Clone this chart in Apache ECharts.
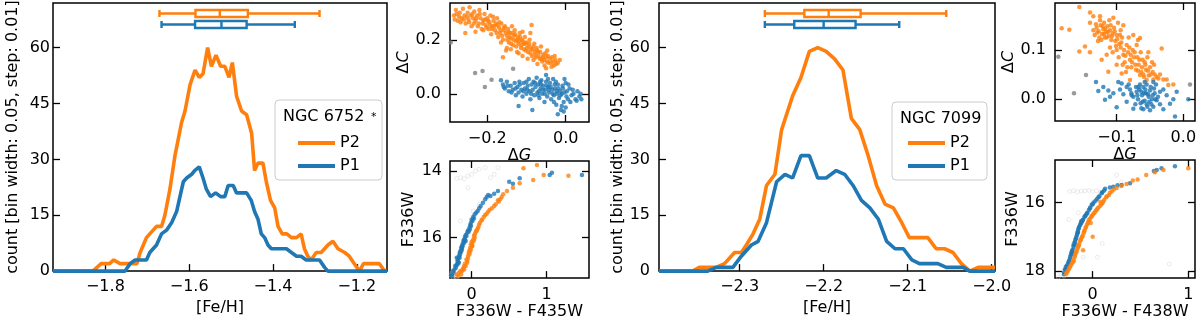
<!DOCTYPE html>
<html>
<head>
<meta charset="utf-8">
<script src="https://cdn.jsdelivr.net/npm/echarts@6.0.0/dist/echarts.min.js"></script>
<style>
  html, body { margin: 0; padding: 0; background: #fff; }
  #chart { width: 1200px; height: 321px; }
</style>
</head>
<body>
<div id="chart"></div>
<script>
// ---- NGC 6752 metallicity distribution (running histogram) ----
const fe6752P2 = [-1.925,-1.83,-1.81,-1.79,-1.78,-1.765,-1.725,-1.717,-1.702,-1.686,-1.678,-1.666,-1.658,-1.646,-1.634,-1.618,-1.610,-1.598,-1.586,-1.576,-1.567,-1.556,-1.547,-1.536,-1.525,-1.515,-1.505,-1.497,-1.487,-1.475,-1.463,-1.451,-1.444,-1.436,-1.424,-1.416,-1.406,-1.396,-1.388,-1.378,-1.367,-1.356,-1.344,-1.333,-1.325,-1.317,-1.309,-1.297,-1.285,-1.269,-1.257,-1.245,-1.229,-1.218,-1.206,-1.194,-1.184,-1.174,-1.146,-1.134,-1.128];
const n6752P2 = [0,0,2,2,3,2,2,5,9,11,12,12,15,22,31,40,43,50,54,52,53,60,55,58,55,55,52,56,47,43,42,37,27,29,29,24,19,17,12,10,10,9,9,10,6,4,3,5,5,7,8,6,5,4,2,0,2,2,2,0,0];
const fe6752P1 = [-1.925,-1.753,-1.741,-1.729,-1.702,-1.694,-1.678,-1.666,-1.654,-1.642,-1.630,-1.622,-1.614,-1.606,-1.594,-1.587,-1.576,-1.567,-1.559,-1.549,-1.537,-1.525,-1.515,-1.507,-1.495,-1.487,-1.471,-1.463,-1.452,-1.444,-1.436,-1.428,-1.420,-1.412,-1.404,-1.368,-1.356,-1.344,-1.333,-1.321,-1.289,-1.277,-1.269,-1.128];
const n6752P1 = [0,0,2,3,3,5,7,10,11,13,16,20,24,25,26,27,28,25,22,20,21,20,20,23,23,21,21,21,19,16,14,10,9,7,6,6,5,4,4,3,3,1,0,0];
// box stats [min, q1, median, q3, max]
const box6752P1 = [-1.666,-1.586,-1.523,-1.463,-1.348];
const box6752P2 = [-1.671,-1.585,-1.527,-1.460,-1.289];

// ---- NGC 7099 ----
const fe7099P2 = [-2.396,-2.356,-2.348,-2.328,-2.318,-2.306,-2.298,-2.292,-2.284,-2.276,-2.268,-2.258,-2.250,-2.237,-2.227,-2.217,-2.207,-2.197,-2.187,-2.177,-2.167,-2.157,-2.147,-2.137,-2.127,-2.117,-2.107,-2.098,-2.088,-2.076,-2.066,-2.056,-2.046,-2.036,-2.026,-2.016,-1.996];
const n7099P2 = [0,0,1,1,2,5,5,7,10,14,23,26,38,47,52,59,60,59,57,54,41,38,31,23,18,17,13,9,9,9,6,6,5,2,0,1,1];
const fe7099P1 = [-2.396,-2.338,-2.328,-2.308,-2.298,-2.286,-2.278,-2.268,-2.256,-2.246,-2.237,-2.227,-2.217,-2.207,-2.197,-2.185,-2.175,-2.165,-2.155,-2.145,-2.135,-2.125,-2.115,-2.105,-2.095,-2.086,-2.064,-2.054,-2.034,-2.026,-1.996];
const n7099P1 = [0,0,1,1,4,7,8,13,24,26,25,31,31,25,25,27,26,23,19,17,14,8,6,6,3,2,2,1,1,0,0];
const box7099P1 = [-2.270,-2.235,-2.200,-2.162,-2.110];
const box7099P2 = [-2.270,-2.223,-2.194,-2.156,-2.054];

// ---- chromosome maps (dG, dC) ----
const map6752P2 = [[-0.285,0.29],[-0.28,0.31],[-0.275,0.27],[-0.27,0.30],[-0.265,0.28],[-0.262,0.315],[-0.258,0.29],[-0.255,0.26],[-0.25,0.30],[-0.248,0.275],[-0.245,0.32],[-0.242,0.29],[-0.24,0.25],[-0.236,0.28],[-0.233,0.305],[-0.23,0.27],[-0.226,0.29],[-0.222,0.26],[-0.22,0.31],[-0.217,0.28],[-0.214,0.24],[-0.21,0.27],[-0.207,0.295],[-0.204,0.255],[-0.2,0.28],[-0.197,0.24],[-0.195,0.265],[-0.192,0.29],[-0.19,0.22],[-0.187,0.25],[-0.184,0.27],[-0.18,0.235],[-0.178,0.26],[-0.175,0.28],[-0.172,0.21],[-0.17,0.245],[-0.167,0.225],[-0.164,0.26],[-0.16,0.2],[-0.158,0.235],[-0.155,0.25],[-0.152,0.16],[-0.15,0.215],[-0.147,0.24],[-0.145,0.19],[-0.142,0.225],[-0.14,0.205],[-0.137,0.25],[-0.134,0.18],[-0.132,0.215],[-0.13,0.235],[-0.127,0.195],[-0.124,0.155],[-0.122,0.21],[-0.12,0.185],[-0.117,0.225],[-0.114,0.17],[-0.112,0.2],[-0.11,0.14],[-0.107,0.185],[-0.104,0.21],[-0.102,0.16],[-0.1,0.19],[-0.097,0.13],[-0.094,0.175],[-0.092,0.2],[-0.09,0.15],[-0.087,0.255],[-0.084,0.165],[-0.082,0.125],[-0.08,0.185],[-0.077,0.145],[-0.074,0.17],[-0.072,0.11],[-0.07,0.155],[-0.066,0.13],[-0.063,0.175],[-0.06,0.12],[-0.057,0.145],[-0.054,0.105],[-0.05,0.135],[-0.047,0.16],[-0.044,0.115],[-0.04,0.13],[-0.036,0.1],[-0.032,0.12],[-0.028,0.14],[-0.024,0.11],[-0.015,0.125],[-0.05,0.095],[-0.16,0.135],[-0.256,0.225],[-0.23,0.23],
    [-0.283,0.275],[-0.278,0.295],[-0.272,0.285],[-0.268,0.265],[-0.26,0.275],[-0.252,0.285],[-0.246,0.265],[-0.238,0.295],[-0.234,0.26],[-0.228,0.28],[-0.224,0.25],[-0.219,0.295],[-0.212,0.26],[-0.206,0.275],[-0.202,0.245],[-0.198,0.27],[-0.193,0.255],[-0.188,0.24],[-0.185,0.285],[-0.182,0.25],[-0.176,0.225],[-0.174,0.255],[-0.169,0.265],[-0.166,0.235],[-0.162,0.215],[-0.157,0.245],[-0.153,0.225],[-0.149,0.2],[-0.146,0.23],[-0.143,0.21],[-0.139,0.185],[-0.136,0.225],[-0.133,0.2],[-0.129,0.22],[-0.126,0.175],[-0.123,0.2],[-0.119,0.195],[-0.116,0.21],[-0.113,0.18],[-0.109,0.195],[-0.106,0.165],[-0.103,0.185],[-0.099,0.17],[-0.096,0.155],[-0.093,0.185],[-0.089,0.165],[-0.086,0.14],[-0.083,0.175],[-0.079,0.155],[-0.076,0.135],[-0.073,0.16],[-0.069,0.14],[-0.065,0.155],[-0.062,0.13],[-0.058,0.135],[-0.055,0.125],[-0.052,0.15],[-0.048,0.12],[-0.045,0.14],[-0.038,0.115],[-0.035,0.135],[-0.03,0.105],[-0.026,0.125],[-0.02,0.115],[-0.15,0.17],[-0.14,0.165],[-0.165,0.19],[-0.12,0.15],[-0.21,0.235],[-0.09,0.225],[-0.11,0.23]];
const map6752P1 = [[-0.165,0.05],[-0.16,0.035],[-0.155,0.02],[-0.15,0.045],[-0.145,0.01],[-0.14,0.03],[-0.135,0.015],[-0.13,0.04],[-0.127,-0.005],[-0.123,0.025],[-0.12,0.005],[-0.117,0.035],[-0.113,0.015],[-0.11,-0.01],[-0.107,0.04],[-0.104,0.02],[-0.1,0.0],[-0.097,0.03],[-0.094,0.055],[-0.092,0.01],[-0.09,-0.02],[-0.087,0.035],[-0.084,0.015],[-0.082,0.045],[-0.08,-0.005],[-0.077,0.025],[-0.074,0.06],[-0.072,0.005],[-0.07,0.035],[-0.067,-0.015],[-0.064,0.02],[-0.062,0.05],[-0.06,0.0],[-0.057,0.03],[-0.054,-0.03],[-0.052,0.015],[-0.05,0.045],[-0.047,-0.01],[-0.044,0.025],[-0.042,0.005],[-0.04,0.04],[-0.037,-0.02],[-0.034,0.015],[-0.032,0.055],[-0.03,-0.005],[-0.027,0.02],[-0.024,-0.04],[-0.022,0.0],[-0.02,0.035],[-0.017,-0.015],[-0.014,0.01],[-0.012,-0.06],[-0.01,0.0],[-0.007,0.02],[-0.005,-0.03],[-0.003,0.055],[0.0,-0.05],[0.003,0.01],[0.006,-0.02],[0.01,0.02],[0.015,-0.005],[0.02,0.0],[0.025,-0.02],[0.03,0.01],[0.035,-0.01],[0.04,-0.02],[-0.02,-0.075],[-0.05,0.07],[-0.12,-0.045],[-0.085,-0.06],
    [-0.158,0.025],[-0.148,0.03],[-0.138,0.005],[-0.128,0.02],[-0.118,0.045],[-0.108,0.01],[-0.098,0.015],[-0.088,0.0],[-0.078,0.04],[-0.068,0.01],[-0.063,0.035],[-0.058,0.015],[-0.053,0.0],[-0.048,0.03],[-0.043,0.015],[-0.038,0.025],[-0.033,0.0],[-0.028,0.035],[-0.023,0.01],[-0.018,0.02],[-0.013,-0.005],[-0.008,0.03],[-0.003,0.005],[0.002,-0.01],[0.007,0.035],[0.012,-0.03],[0.018,0.015],[0.028,-0.025],[0.038,0.0],[-0.01,-0.045],[-0.03,-0.03],[-0.07,-0.005],[-0.1,0.045],[-0.065,0.045],[-0.045,0.055],[-0.025,0.045],[-0.005,-0.065],[0.0,0.04]];
const map6752Other = [[-0.231,0.077],[-0.212,0.085],[-0.189,0.052],[-0.206,0.025],[-0.134,0.093],[-0.293,0.19]];

const map7099P2 = [[-0.156,0.187],[-0.1825,0.144],[-0.171,0.141],[-0.14,0.176],[-0.135,0.168],[-0.125,0.168],[-0.1475,0.107],[-0.156,0.097],[-0.14,0.095],[-0.1225,0.08],[-0.1125,0.056],[-0.0925,0.052],[-0.08,0.039],[-0.065,0.049],[-0.055,0.039],[-0.0375,0.042],[-0.0325,0.103],[-0.0225,0.029],[-0.015,0.03],[-0.0525,0.095],[-0.065,0.124],[-0.13,0.145],[-0.127,0.138],[-0.124,0.15],[-0.122,0.132],[-0.12,0.142],[-0.118,0.125],[-0.116,0.136],[-0.114,0.148],[-0.112,0.128],[-0.11,0.14],[-0.108,0.12],[-0.106,0.133],[-0.104,0.145],[-0.102,0.118],[-0.1,0.13],[-0.098,0.155],[-0.096,0.112],[-0.094,0.14],[-0.126,0.125],[-0.119,0.155],[-0.111,0.16],[-0.133,0.13],[-0.128,0.118],[-0.105,0.165],[-0.09,0.15],[-0.092,0.125],[-0.11,0.105],[-0.106,0.095],[-0.1,0.1],[-0.097,0.085],[-0.094,0.105],[-0.09,0.09],[-0.088,0.075],[-0.085,0.11],[-0.083,0.095],[-0.08,0.08],[-0.078,0.065],[-0.076,0.1],[-0.074,0.085],[-0.072,0.07],[-0.07,0.11],[-0.068,0.058],[-0.066,0.08],[-0.064,0.095],[-0.062,0.065],[-0.06,0.05],[-0.058,0.075],[-0.056,0.06],[-0.054,0.085],[-0.052,0.048],[-0.05,0.065],[-0.046,0.055],[-0.044,0.07],[-0.04,0.045],[-0.082,0.125],[-0.075,0.13],[-0.068,0.12],[-0.115,0.09],[-0.1,0.07],[-0.086,0.055],[-0.03,0.04],[-0.045,0.04],
    [-0.131,0.152],[-0.125,0.16],[-0.121,0.148],[-0.117,0.143],[-0.113,0.137],[-0.109,0.15],[-0.107,0.128],[-0.103,0.138],[-0.099,0.122],[-0.095,0.13],[-0.123,0.12],[-0.119,0.132],[-0.115,0.125],[-0.129,0.135],[-0.135,0.14],[-0.14,0.155],[-0.101,0.108],[-0.093,0.115],[-0.089,0.1],[-0.087,0.088],[-0.081,0.105],[-0.079,0.09],[-0.077,0.075],[-0.073,0.095],[-0.071,0.06],[-0.069,0.085],[-0.067,0.07],[-0.063,0.055],[-0.061,0.08],[-0.059,0.045],[-0.057,0.07],[-0.053,0.058],[-0.049,0.05],[-0.047,0.075],[-0.043,0.05],[-0.091,0.07],[-0.084,0.065],[-0.035,0.05],[-0.025,0.04]];
const map7099P1 = [[-0.131,0.035],[-0.1275,0.017],[-0.1175,-0.001],[-0.1125,0.018],[-0.105,0.012],[-0.0975,0.035],[-0.1,-0.016],[-0.0925,0.032],[-0.085,0.025],[-0.0775,0.008],[-0.075,-0.019],[-0.04,-0.002],[-0.035,0.015],[-0.02,-0.009],[-0.01,0.015],[-0.0125,-0.035],[0.0075,0.0],[-0.07,0.015],[-0.068,0.0],[-0.066,0.02],[-0.064,-0.008],[-0.062,0.008],[-0.06,0.025],[-0.058,-0.003],[-0.056,0.012],[-0.054,-0.015],[-0.052,0.005],[-0.05,0.018],[-0.048,-0.01],[-0.046,0.008],[-0.044,0.022],[-0.06,-0.02],[-0.055,0.03],[-0.075,0.005],[-0.08,0.02],[-0.072,-0.01],[-0.065,0.03],[-0.05,-0.022],[-0.042,0.0],[-0.085,-0.005],[-0.09,0.01],[-0.058,0.035],[-0.035,-0.01],[-0.03,0.02],
    [-0.069,0.008],[-0.067,0.025],[-0.063,0.015],[-0.061,-0.005],[-0.059,0.012],[-0.057,0.02],[-0.053,0.01],[-0.051,-0.005],[-0.049,0.025],[-0.047,0.0],[-0.045,-0.015],[-0.043,0.012],[-0.041,0.03],[-0.038,0.005],[-0.063,-0.018],[-0.055,-0.01],[-0.071,0.025],[-0.078,0.012],[-0.082,0.03],[-0.095,0.02],[-0.11,0.005],[-0.12,0.025],[-0.025,0.008],[-0.015,0.0],[-0.03,-0.02],[-0.045,0.035]];
const map7099Other = [[-0.1875,0.086],[-0.146,0.049],[-0.164,0.012],[0.01,0.03]];

// ---- CMDs (colour, F336W) ----
const cmd6752P1 = [[-0.27,17.1],[-0.25,17.0],[-0.23,16.95],[-0.22,16.85],[-0.2,16.8],[-0.19,16.7],[-0.18,16.62],[-0.17,16.55],[-0.16,16.45],[-0.15,16.4],[-0.14,16.3],[-0.13,16.25],[-0.12,16.18],[-0.11,16.1],[-0.1,16.05],[-0.09,15.98],[-0.08,15.92],[-0.06,15.85],[-0.05,15.78],[-0.03,15.7],[-0.02,15.62],[-0.01,15.55],[0.0,15.45],[0.02,15.38],[0.04,15.3],[0.08,15.2],[0.12,15.05],[0.15,14.95],[0.2,14.78],[0.22,14.72],[0.3,14.68],[0.35,14.6],[0.5,14.32],[0.55,14.38],[0.64,14.22],[1.04,14.12],[1.07,14.05],[1.47,14.12],[-0.17,16.75],[-0.13,16.35],[-0.08,16.1],[-0.2,16.6],
    [-0.26,17.15],[-0.24,17.05],[-0.21,16.9],[-0.19,16.8],[-0.18,16.72],[-0.16,16.6],[-0.155,16.5],[-0.14,16.42],[-0.13,16.3],[-0.12,16.25],[-0.1,16.15],[-0.09,16.05],[-0.07,15.95],[-0.04,15.82],[-0.025,15.75],[-0.01,15.65],[0.01,15.5],[0.03,15.42],[0.06,15.25],[0.1,15.12],[0.18,14.85],[0.25,14.75]];
const cmd6752P2 = [[-0.2,17.1],[-0.17,17.05],[-0.15,17.0],[-0.12,16.95],[-0.1,16.85],[-0.09,16.78],[-0.07,16.65],[-0.05,16.55],[-0.04,16.45],[-0.03,16.38],[-0.02,16.3],[-0.01,16.2],[0.0,16.12],[0.02,16.05],[0.03,15.95],[0.05,15.85],[0.07,15.78],[0.09,15.68],[0.1,15.6],[0.13,15.48],[0.16,15.38],[0.2,15.28],[0.24,15.16],[0.3,15.05],[0.35,14.88],[0.38,14.85],[0.42,14.7],[0.47,14.6],[0.55,14.5],[0.64,14.37],[0.69,13.92],[0.82,14.27],[0.87,13.82],[0.96,14.12],[1.29,14.14],[-0.06,16.7],[0.04,16.0],[-0.11,16.9],[0.01,16.25],
    [-0.18,17.15],[-0.14,17.1],[-0.13,17.0],[-0.1,16.95],[-0.08,16.85],[-0.06,16.75],[-0.05,16.62],[-0.03,16.5],[-0.02,16.42],[-0.01,16.35],[0.0,16.25],[0.01,16.15],[0.03,16.08],[0.04,15.9],[0.06,15.8],[0.08,15.72],[0.11,15.55],[0.14,15.45],[0.18,15.32],[0.22,15.22],[0.27,15.12],[0.32,15.0],[0.36,14.92],[0.4,14.78]];
const cmd6752All = [[-0.2,14.22],[-0.15,14.2],[-0.1,14.23],[-0.05,14.15],[0.0,14.1],[0.05,14.0],[0.1,13.95],[0.18,13.9],[0.25,14.2],[0.3,14.1],[0.35,13.9],[-0.05,14.5],[0.1,15.0],[-0.22,17.15],[-0.25,17.18],[-0.28,17.12],[-0.2,17.18],[-0.26,17.05],[-0.15,15.5],[0.02,15.2]];

const cmd7099P1 = [[-0.3,18.05],[-0.29,17.95],[-0.28,17.88],[-0.26,17.8],[-0.25,17.72],[-0.24,17.66],[-0.23,17.55],[-0.22,17.45],[-0.21,17.38],[-0.2,17.3],[-0.19,17.22],[-0.185,17.15],[-0.175,17.05],[-0.165,16.95],[-0.155,16.85],[-0.15,16.78],[-0.14,16.7],[-0.125,16.62],[-0.115,16.58],[-0.1,16.5],[-0.085,16.42],[-0.07,16.36],[-0.055,16.3],[-0.04,16.22],[-0.025,16.15],[-0.01,16.07],[0.01,16.0],[0.03,15.95],[0.045,15.9],[0.07,15.82],[0.094,15.73],[0.12,15.65],[0.13,15.6],[0.18,15.56],[0.216,15.54],[0.26,15.5],[0.303,15.49],[0.39,15.44],[0.64,15.08],[0.67,15.05],[0.72,15.0],[0.86,14.94],[-0.27,17.98],[-0.21,17.5],[-0.16,16.9],[-0.12,16.55],
    [-0.3,18.1],[-0.28,17.95],[-0.27,17.85],[-0.25,17.75],[-0.235,17.6],[-0.225,17.5],[-0.215,17.42],[-0.2,17.25],[-0.19,17.18],[-0.18,17.08],[-0.17,17.0],[-0.155,16.88],[-0.145,16.75],[-0.13,16.65],[-0.105,16.52],[-0.08,16.4],[-0.06,16.32],[-0.03,16.18],[0.0,16.05],[0.06,15.85],[0.1,15.7]];
const cmd7099P2 = [[-0.28,18.1],[-0.27,18.05],[-0.25,17.95],[-0.23,17.85],[-0.21,17.75],[-0.2,17.68],[-0.19,17.6],[-0.18,17.5],[-0.17,17.42],[-0.16,17.35],[-0.15,17.28],[-0.14,17.2],[-0.13,17.12],[-0.12,17.05],[-0.105,16.98],[-0.095,16.9],[-0.085,16.82],[-0.07,16.72],[-0.06,16.65],[-0.045,16.55],[-0.03,16.48],[-0.015,16.42],[0.0,16.36],[0.02,16.3],[0.04,16.22],[0.06,16.15],[0.08,16.1],[0.1,16.02],[0.12,15.93],[0.14,15.85],[0.17,15.78],[0.2,15.68],[0.25,15.58],[0.3,15.52],[0.355,15.46],[0.42,15.36],[0.47,15.33],[0.56,15.2],[0.65,15.12],[0.74,15.05],[1.0,15.0],[-0.1,17.4],[0.0,17.0],[-0.02,16.6],[0.08,15.98],
    [-0.26,18.0],[-0.24,17.9],[-0.22,17.8],[-0.2,17.72],[-0.185,17.55],[-0.17,17.45],[-0.155,17.3],[-0.145,17.25],[-0.125,17.1],[-0.11,17.0],[-0.09,16.85],[-0.075,16.75],[-0.05,16.6],[-0.035,16.5],[-0.01,16.4],[0.01,16.32],[0.03,16.25],[0.05,16.18],[0.09,16.05],[0.11,15.98],[0.15,15.82],[0.18,15.72],[0.22,15.62]];
const cmd7099All = [[-0.24,15.68],[-0.2,15.66],[-0.16,15.69],[-0.12,15.67],[-0.08,15.66],[-0.04,15.65],[0.0,15.68],[0.04,15.66],[0.08,15.7],[-0.3,18.15],[-0.33,18.1],[-0.36,18.18],[-0.3,18.0],[-0.2,17.2],[-0.1,17.6],[0.05,17.6],[-0.25,16.5],[0.25,15.2],[0.3,15.4],[0.8,17.8],[0.1,17.2],[-0.15,16.3]];

// tick positions
const feTicks6752 = [-1.8, -1.6, -1.4, -1.2];
const feTicks7099 = [-2.3, -2.2, -2.1, -2.0];
const countTicks = [0, 15, 30, 45, 60];
const dgTicks6752 = [-0.2, 0.0], dcTicks6752 = [0.0, 0.2];
const dgTicks7099 = [-0.1, 0.0], dcTicks7099 = [0.0, 0.1];
const colTicks = [0, 1];
const magTicks6752 = [14, 16], magTicks7099 = [16, 18];

const ORANGE = '#ff7f0e', BLUE = '#1f77b4', FONT = 'DejaVu Sans';
const COUNT_NAME = 'count [bin width: 0.05, step: 0.01]';

const grids = [], xAxes = [], yAxes = [], series = [];

function fmt(d) {
    return v => (d == null ? String(v) : Number(v).toFixed(d)).replace('-', '\u2212');
}

function axis(o) {
    return {
        type: 'value', gridIndex: o.grid, position: o.pos,
        min: o.min, max: o.max, inverse: !!o.inverse,
        axisLine: { show: false, onZero: false },
        splitLine: { show: false },
        axisTick: { show: true, inside: true, length: 7, customValues: o.ticks, lineStyle: { color: '#000', width: 1.3 } },
        axisLabel: { show: !!o.fmt, customValues: o.ticks, formatter: o.fmt, margin: o.margin == null ? 8 : o.margin,
            color: '#000', fontSize: 16, fontFamily: FONT },
        name: o.name, nameLocation: 'middle', nameGap: o.nameGap,
        nameTextStyle: Object.assign({ color: '#000', fontSize: 16, fontFamily: FONT }, o.nameStyle || {})
    };
}

function panel(box, xo, yo, mirror) {
    grids.push({ left: box[0], top: box[1], width: box[2], height: box[3], show: true,
        borderColor: '#000', borderWidth: 1.5, backgroundColor: 'transparent' });
    const g = grids.length - 1;
    const ax = { x: xAxes.length, y: yAxes.length };
    xAxes.push(axis(Object.assign({ grid: g, pos: 'bottom' }, xo)));
    yAxes.push(axis(Object.assign({ grid: g, pos: 'left' }, yo)));
    if (mirror) {
        xAxes.push(axis({ grid: g, pos: 'top', min: xo.min, max: xo.max, ticks: xo.ticks }));
        yAxes.push(axis({ grid: g, pos: 'right', min: yo.min, max: yo.max, ticks: yo.ticks, inverse: yo.inverse }));
    }
    return ax;
}

// boxplots sitting above the histograms
function boxRow(box, xmin, xmax, p1, p2) {
    grids.push({ left: box[0], top: 8, width: box[2], height: 22 });
    const g = grids.length - 1;
    xAxes.push({ type: 'value', gridIndex: g, min: xmin, max: xmax, show: false });
    yAxes.push({ type: 'category', gridIndex: g, data: ['P1', 'P2'], show: false });
    series.push({
        type: 'boxplot', layout: 'horizontal', silent: true,
        xAxisIndex: xAxes.length - 1, yAxisIndex: yAxes.length - 1,
        boxWidth: [7, 7],
        itemStyle: { color: '#fff', borderWidth: 2.4 },
        data: [
            { value: p1, itemStyle: { borderColor: BLUE, borderWidth: 2.4 } },
            { value: p2, itemStyle: { borderColor: ORANGE, borderWidth: 2.4 } }
        ]
    });
}

function hist(ax, name, color, xs, ys) {
    series.push({
        type: 'line', name: name, xAxisIndex: ax.x, yAxisIndex: ax.y,
        data: xs.map((x, i) => [x, ys[i]]),
        symbol: 'none', color: color, lineStyle: { width: 3.6, color: color }
    });
}

function dots(ax, pts, color) {
    series.push({ type: 'scatter', xAxisIndex: ax.x, yAxisIndex: ax.y, data: pts,
        symbolSize: 4.5, silent: true, itemStyle: { color: color } });
}

function rings(ax, pts) {
    series.push({ type: 'scatter', xAxisIndex: ax.x, yAxisIndex: ax.y, data: pts,
        symbolSize: 4, silent: true,
        itemStyle: { color: 'rgba(0,0,0,0)', borderColor: '#d4d4d4', borderWidth: 0.8, opacity: 0.6 } });
}

const deltaName = l => '{d|\u0394}{i|' + l + '}';
const deltaRich = { rich: {
    d: { fontSize: 16, fontFamily: FONT, color: '#000' },
    i: { fontSize: 16, fontFamily: FONT, color: '#000', fontStyle: 'italic' }
} };

// ---- NGC 6752 histogram ----
const box1 = [53, 3, 334, 276];
const h1 = panel(box1,
    { min: -1.925, max: -1.128, ticks: feTicks6752, fmt: fmt(1), name: '[Fe/H]', nameGap: 18 },
    { min: 0, max: 72, ticks: countTicks, fmt: fmt(), margin: 3, name: COUNT_NAME, nameGap: 32 });
hist(h1, 'P2', ORANGE, fe6752P2, n6752P2);
hist(h1, 'P1', BLUE, fe6752P1, n6752P1);
boxRow(box1, -1.925, -1.128, box6752P1, box6752P2);

// ---- NGC 6752 chromosome map ----
const c1 = panel([450, 3, 139, 119],
    { min: -0.295, max: 0.0595, ticks: dgTicks6752, fmt: fmt(1), margin: 9, name: deltaName('G'), nameGap: 22, nameStyle: deltaRich },
    { min: -0.104, max: 0.336, ticks: dcTicks6752, fmt: fmt(1), margin: 9, name: deltaName('C'), nameGap: 37, nameStyle: deltaRich }, true);
dots(c1, map6752Other, '#808080');
dots(c1, map6752P2, ORANGE);
dots(c1, map6752P1, BLUE);

// ---- NGC 6752 CMD ----
const m1 = panel([450, 161, 139, 118],
    { min: -0.289, max: 1.564, ticks: colTicks, fmt: fmt(), margin: 9, name: 'F336W - F435W', nameGap: 22 },
    { min: 13.70, max: 17.21, inverse: true, ticks: magTicks6752, fmt: fmt(), margin: 8, name: 'F336W', nameGap: 33 }, true);
rings(m1, cmd6752All);
dots(m1, cmd6752P1, BLUE);
dots(m1, cmd6752P2, ORANGE);

// ---- NGC 7099 histogram ----
const box4 = [659, 3, 336, 276];
const h4 = panel(box4,
    { min: -2.396, max: -1.996, ticks: feTicks7099, fmt: fmt(1), name: '[Fe/H]', nameGap: 18 },
    { min: 0, max: 72, ticks: countTicks, fmt: fmt(), margin: 9, name: COUNT_NAME, nameGap: 31 });
hist(h4, 'P2', ORANGE, fe7099P2, n7099P2);
hist(h4, 'P1', BLUE, fe7099P1, n7099P1);
boxRow(box4, -2.396, -1.996, box7099P1, box7099P2);

// ---- NGC 7099 chromosome map ----
const c2 = panel([1055, 3, 140, 118],
    { min: -0.1925, max: 0.0175, ticks: dgTicks7099, fmt: fmt(1), margin: 9, name: deltaName('G'), nameGap: 22, nameStyle: deltaRich },
    { min: -0.044, max: 0.195, ticks: dcTicks7099, fmt: fmt(1), margin: 9, name: deltaName('C'), nameGap: 37, nameStyle: deltaRich }, true);
dots(c2, map7099Other, '#808080');
dots(c2, map7099P2, ORANGE);
dots(c2, map7099P1, BLUE);

// ---- NGC 7099 CMD ----
const m2 = panel([1055, 160, 140, 119],
    { min: -0.394, max: 1.07, ticks: colTicks, fmt: fmt(), margin: 9, name: 'F336W - F438W', nameGap: 22 },
    { min: 14.76, max: 18.21, inverse: true, ticks: magTicks7099, fmt: fmt(), margin: 10, name: 'F336W', nameGap: 32 }, true);
rings(m2, cmd7099All);
dots(m2, cmd7099P1, BLUE);
dots(m2, cmd7099P2, ORANGE);

function legendBox(x, y, w, h, title, star) {
    const els = [
        { type: 'rect', z: 3, shape: { x: x, y: y, width: w, height: h, r: 4 },
          style: { fill: 'rgba(255,255,255,0.8)', stroke: '#cccccc', lineWidth: 1 } },
        { type: 'text', z: 5, x: x + 8, y: y + 17,
          style: { text: title, font: '16px "DejaVu Sans"', fill: '#000', verticalAlign: 'middle' } }
    ];
    if (star) {
        els.push({ type: 'text', z: 5, x: x + 96, y: y + 12,
            style: { text: '*', font: '11px "DejaVu Sans"', fill: '#000', verticalAlign: 'top' } });
    }
    return els;
}

function legendItems(left, top) {
    return {
        data: ['P2', 'P1'], orient: 'vertical', left: left, top: top,
        icon: 'rect', itemWidth: 37, itemHeight: 4, itemGap: 7,
        selectedMode: false,
        textStyle: { fontSize: 16, color: '#000', fontFamily: FONT }
    };
}

const chart = echarts.init(document.getElementById('chart'), null, { renderer: 'canvas' });
chart.setOption({
    animation: false,
    backgroundColor: '#fff',
    textStyle: { fontFamily: FONT },
    grid: grids,
    xAxis: xAxes,
    yAxis: yAxes,
    legend: [legendItems(293, 130), legendItems(903, 130)],
    graphic: [].concat(
        legendBox(275, 100, 107, 80, 'NGC 6752', true),
        legendBox(892, 102, 95, 78, 'NGC 7099', false)
    ),
    series: series
});
</script>
</body>
</html>
